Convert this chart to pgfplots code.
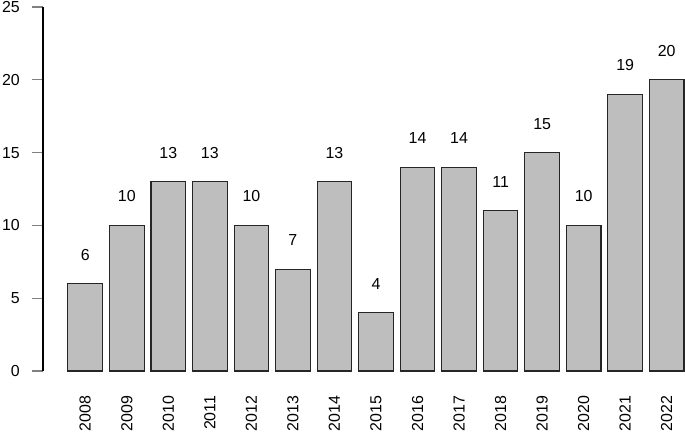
\documentclass[border=0pt]{standalone}
\usepackage{pgfplots}
\pgfplotsset{compat=1.18}
\usepackage{fontspec}
\setmainfont{Liberation Sans}

\definecolor{bargray}{RGB}{190,190,190}

\begin{document}
\begin{tikzpicture}
  \useasboundingbox (-43bp,-62bp) rectangle (642bp,371bp);
  \begin{axis}[
    scale only axis,
    width=642bp, height=364bp,
    xmin=-1.017, xmax=14.44,
    ymin=0, ymax=25,
    axis lines=left,
    axis line style={-, line width=1.2bp},
    x axis line style={draw=none},
    xtick=data,
    xticklabels={2008,2009,2010,2011,2012,2013,2014,2015,2016,2017,2018,2019,2020,2021,2022},
    xtick style={draw=none},
    xticklabel style={rotate=90, anchor=east, inner sep=0pt},
    xticklabel shift=13.5bp,
    ytick={0,5,10,15,20,25},
    tick align=outside,
    major tick length=11bp,
    ytick style={line width=1.2bp},
    yticklabel style={inner sep=0pt, anchor=east},
    yticklabel shift=12bp,
    /pgf/number format/assume math mode=true,
    tick label style={font=\fontsize{16}{18}\selectfont},
    clip=false,
  ]
  % bars with their values above
  \addplot[ybar, bar width=0.8333, bar shift=0pt, fill=bargray, draw=black!85, line width=1.1bp,
    nodes near coords,
    nodes near coords style={anchor=center, yshift=29bp, font=\fontsize{16}{18}\selectfont, /pgf/number format/assume math mode=true}]
    coordinates {(0,6) (1,10) (2,13) (3,13) (4,10) (5,7) (6,13) (7,4) (8,14) (9,14) (10,11) (11,15) (12,10) (13,19) (14,20)};
  \end{axis}
\end{tikzpicture}
\end{document}
